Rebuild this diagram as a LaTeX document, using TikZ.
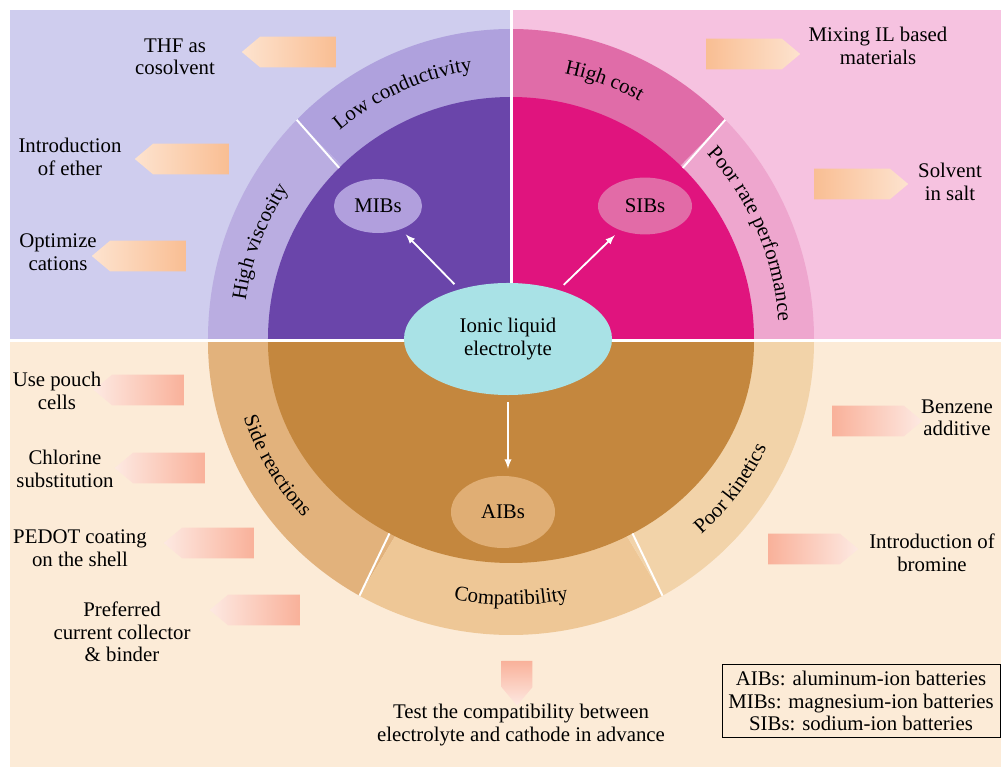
\documentclass[tikz,border=0pt]{standalone}
\usepackage{fontspec}
\setmainfont{Liberation Serif}
\usepackage{tikz}
\usetikzlibrary{arrows,shapes.geometric,shapes.arrows,decorations.text}

\definecolor{lavbg}{HTML}{CFCDEE}
\definecolor{pinkbg}{HTML}{F6C2E0}
\definecolor{creambg}{HTML}{FCEBD7}
\definecolor{lowcondc}{HTML}{AFA1DD}
\definecolor{highviscc}{HTML}{BAADE1}
\definecolor{mibcore}{HTML}{6A45AA}
\definecolor{mibfill}{HTML}{B19FDD}
\definecolor{highcostc}{HTML}{E06CA8}
\definecolor{poorratec}{HTML}{EEA6CE}
\definecolor{sibcore}{HTML}{E0147E}
\definecolor{sibfill}{HTML}{E26BA7}
\definecolor{sidereacc}{HTML}{E2B27C}
\definecolor{compatc}{HTML}{EEC796}
\definecolor{poorkinc}{HTML}{F2D3A9}
\definecolor{aibcore}{HTML}{C4873E}
\definecolor{aibfill}{HTML}{E0AE74}
\definecolor{ilfill}{HTML}{A9E2E6}
\definecolor{peachtail}{HTML}{F9BE93}
\definecolor{peachtip}{HTML}{FDE3CF}
\definecolor{salmontail}{HTML}{F9B19A}
\definecolor{salmontip}{HTML}{FDE9E2}

\newcommand{\ringfont}{\fontsize{14.8}{16}\selectfont}

\tikzset{
  callout/.style={single arrow, single arrow head extend=0pt,
    single arrow tip angle=80, minimum height=2.35cm, minimum width=0.77cm,
    inner sep=0pt},
  hint/.style={align=center, inner sep=1pt},
  ringtext/.style={decorate, decoration={text along path, text align=center, text={|\ringfont|#1}}},
  batt/.style={ellipse, inner sep=0pt},
  ringcut/.style={white, line width=1.4pt},
  gap/.style={white, line width=2.2pt},
  flow/.style={white, line width=1.3pt, ->, >=latex, shorten >=5pt, shorten <=5pt}
}

\begin{document}
\begin{tikzpicture}[x=0.025cm,y=0.025cm,font=\ringfont]
\useasboundingbox (-511,-428) rectangle (490,339);
% backgrounds
\fill[white] (-511,-428) rectangle (490,339);
\fill[lavbg] (-501,0) rectangle (0,329);
\fill[pinkbg] (0,0) rectangle (490,329);
\fill[creambg] (-501,-428) rectangle (490,-3);

% upper half of the wheel
\fill[lowcondc] (0,0) -- (90:303 and 310) arc[start angle=90, end angle=135, x radius=303, y radius=310] -- cycle;
\fill[highviscc] (0,0) -- (135:303 and 310) arc[start angle=135, end angle=180, x radius=303, y radius=310] -- cycle;
\fill[mibcore] (0,0) -- (90:243 and 242) arc[start angle=90, end angle=180, x radius=243, y radius=242] -- cycle;
\fill[poorratec] (0,0) -- (0:303 and 310) arc[start angle=0, end angle=45, x radius=303, y radius=310] -- cycle;
\fill[highcostc] (0,0) -- (45:303 and 310) arc[start angle=45, end angle=90, x radius=303, y radius=310] -- cycle;
\fill[sibcore] (0,0) -- (0:243 and 242) arc[start angle=0, end angle=90, x radius=243, y radius=242] -- cycle;
\foreach \a in {45,135}
  \draw[ringcut] (\a:243 and 242) -- (\a:303 and 310);

% lower half of the wheel
\begin{scope}[shift={(0,-3)}]
  \fill[sidereacc] (0,0) -- (180:303 and 293) arc[start angle=180, end angle=240, x radius=303, y radius=293] -- cycle;
  \fill[compatc] (0,0) -- (240:303 and 293) arc[start angle=240, end angle=300, x radius=303, y radius=293] -- cycle;
  \fill[poorkinc] (0,0) -- (300:303 and 293) arc[start angle=300, end angle=360, x radius=303, y radius=293] -- cycle;
  \fill[aibcore] (0,0) -- (180:243 and 221) arc[start angle=180, end angle=360, x radius=243, y radius=221] -- cycle;
  \foreach \a in {240,300}
    \draw[ringcut] (\a:243 and 221) -- (\a:303 and 293);
\end{scope}

% white gaps between the quarters
\draw[gap] (-511,-1.5) -- (490,-1.5);
\draw[gap] (0.5,-1.5) -- (0.5,339);

% ring labels, bent along the ring
\path[ringtext={Low conductivity}] (144:268 and 271) arc[start angle=144, end angle=84, x radius=268, y radius=271];
\path[ringtext={High viscosity}] (189:268 and 271) arc[start angle=189, end angle=129, x radius=268, y radius=271];
\path[ringtext={High cost}] (100:268 and 271) arc[start angle=100, end angle=40, x radius=268, y radius=271];
\path[ringtext={Poor rate performance}] (60:268 and 271) arc[start angle=60, end angle=-13, x radius=268, y radius=271];
\begin{scope}[shift={(0,-3)}]
  \path[ringtext={Side reactions}] (179:279 and 263) arc[start angle=179, end angle=239, x radius=279, y radius=263];
  \path[ringtext={Compatibility}] (240:279 and 263) arc[start angle=240, end angle=300, x radius=279, y radius=263];
  \path[ringtext={Poor kinetics}] (295:279 and 263) arc[start angle=295, end angle=355, x radius=279, y radius=263];
\end{scope}

% batteries and electrolyte
\node[batt, fill=ilfill, minimum width=5.2cm, minimum height=2.8cm, align=center] (ile) at (-3,0) {Ionic liquid\\electrolyte};
\node[batt, fill=mibfill, minimum width=2.2cm, minimum height=1.35cm] (mib) at (-133,133) {MIBs};
\node[batt, fill=sibfill, minimum width=2.35cm, minimum height=1.42cm] (sib) at (134,133) {SIBs};
\node[batt, fill=aibfill, minimum width=2.6cm, minimum height=1.8cm] (aib) at (-8,-173) {AIBs};
\draw[flow] (ile) -- (mib);
\draw[flow] (ile) -- (sib);
\draw[flow] (ile.south) -- (ile.south |- aib.north);

% callout arrows
\node[callout, rotate=180, left color=peachtip, right color=peachtail] (thfarr) at (-213,287) {};
\node[callout, rotate=180, left color=peachtip, right color=peachtail] (etherarr) at (-320,180) {};
\node[callout, rotate=180, left color=peachtip, right color=peachtail] (catarr) at (-363,83) {};
\node[callout, left color=peachtail, right color=peachtip] (mixarr) at (233,285) {};
\node[callout, left color=peachtail, right color=peachtip] (saltarr) at (341,155) {};
\node[callout, rotate=180, minimum height=2.25cm, left color=salmontip, right color=salmontail] (poucharr) at (-363,-51) {};
\node[callout, rotate=180, minimum height=2.25cm, left color=salmontip, right color=salmontail] (chlorarr) at (-342,-129) {};
\node[callout, rotate=180, minimum height=2.25cm, left color=salmontip, right color=salmontail] (pedotarr) at (-293,-204) {};
\node[callout, rotate=180, minimum height=2.25cm, left color=salmontip, right color=salmontail] (preferarr) at (-247,-271) {};
\node[callout, minimum height=2.25cm, left color=salmontail, right color=salmontip] (benzarr) at (357,-82) {};
\node[callout, minimum height=2.25cm, left color=salmontail, right color=salmontip] (bromarr) at (293,-210) {};
\node[callout, rotate=-90, minimum height=1.12cm, top color=salmontail, bottom color=salmontip] (testarr) at (6,-335) {};

% callout texts
\node[hint] (thf) at (-336,282) {THF as\\cosolvent};
\node[hint] (ether) at (-441,182) {Introduction\\of ether};
\node[hint] (cations) at (-453,87) {Optimize\\cations};
\node[hint] (mixing) at (367,293) {Mixing IL based\\materials};
\node[hint] (salt) at (439,157) {Solvent\\in salt};
\node[hint] (pouch) at (-454,-52) {Use pouch\\cells};
\node[hint] (chlorine) at (-446,-130) {Chlorine\\substitution};
\node[hint] (pedot) at (-431,-209) {PEDOT coating\\on the shell};
\node[hint] (prefer) at (-389,-293) {Preferred\\current collector\\\& binder};
\node[hint] (benzene) at (446,-79) {Benzene\\additive};
\node[hint] (bromine) at (421,-214) {Introduction of\\bromine};
\node[hint] (test) at (10,-386) {Test the compatibility between\\electrolyte and cathode in advance};

% legend
\node[draw, line width=0.6pt, align=center, inner sep=2pt, minimum width=6.95cm, minimum height=1.82cm] (legend) at (350,-362) {AIBs: aluminum-ion batteries\\MIBs: magnesium-ion batteries\\SIBs: sodium-ion batteries};
\end{tikzpicture}
\end{document}
